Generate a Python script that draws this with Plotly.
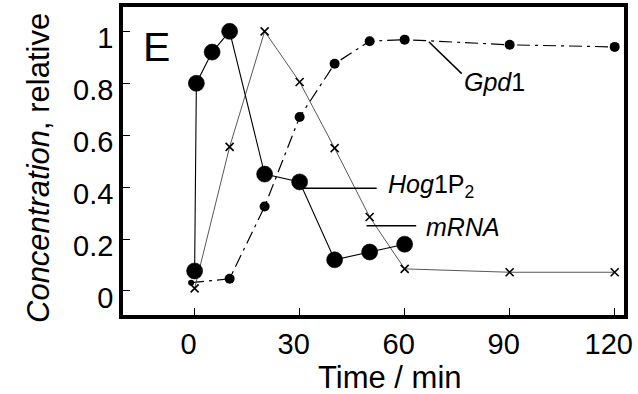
import plotly.graph_objects as go

# Data (time in min, relative concentration)
hog_t = [0, 0.5, 5, 10, 20, 30, 40, 50, 60]
hog_y = [0.077, 0.80, 0.92, 1.0, 0.45, 0.42, 0.12, 0.15, 0.18]

mrna_t = [0, 10, 20, 30, 40, 50, 60, 90, 120]
mrna_y = [0.01, 0.555, 1.0, 0.805, 0.55, 0.285, 0.085, 0.072, 0.072]

gpd_t = [-1, 10, 20, 30, 40, 50, 60, 90, 120]
gpd_y = [0.032, 0.047, 0.325, 0.67, 0.875, 0.962, 0.968, 0.948, 0.94]

x_ticks = [0, 30, 60, 90, 120]
y_ticks = [0, 0.2, 0.4, 0.6, 0.8, 1]
y_ticktext = ["0", "0.2", "0.4", "0.6", "0.8", "1"]

FONT = "Liberation Sans, Arial, sans-serif"

fig = go.Figure()

# Gpd1: dash-dot line
fig.add_trace(go.Scatter(
    x=gpd_t, y=gpd_y, mode="lines",
    line=dict(color="black", width=1.2, dash="13px,5px,3px,5px"),
    showlegend=False, hoverinfo="skip",
))
# Gpd1: small solid dots
fig.add_trace(go.Scatter(
    x=gpd_t, y=gpd_y, mode="markers",
    marker=dict(symbol="circle", color="#000000", opacity=1,
                size=[6] + [10] * (len(gpd_t) - 1),
                line=dict(color="#000000", width=0)),
    showlegend=False,
))

# mRNA: thin line with x markers
fig.add_trace(go.Scatter(
    x=mrna_t, y=mrna_y, mode="lines+markers",
    line=dict(color="#444444", width=0.9),
    marker=dict(symbol="x-thin", size=8, color="black",
                line=dict(color="black", width=1.6)),
    showlegend=False,
))

# Hog1P2: solid line with large circles
fig.add_trace(go.Scatter(
    x=hog_t, y=hog_y, mode="lines+markers",
    line=dict(color="black", width=1.1),
    marker=dict(color="black", size=16, line=dict(color="black", width=0.6)),
    showlegend=False,
))

# Leader lines
fig.add_shape(type="line", xref="x", yref="y", x0=66.9, y0=0.96, x1=76.3, y1=0.837,
              line=dict(color="black", width=1.5))
fig.add_shape(type="line", xref="x", yref="y", x0=30.6, y0=0.396, x1=52, y1=0.396,
              line=dict(color="black", width=1.5))
fig.add_shape(type="line", xref="x", yref="y", x0=49.1, y0=0.251, x1=63.3, y1=0.251,
              line=dict(color="black", width=1.5))

fig.add_annotation(x=76.3, y=0.806, xref="x", yref="y", text="<i>Gpd</i>1",
                   showarrow=False, xanchor="left", yanchor="middle",
                   font=dict(size=25, family=FONT, color="black"))
fig.add_annotation(x=54.8, y=0.404, xref="x", yref="y", text="<i>Hog</i>1P<sub>2</sub>",
                   showarrow=False, xanchor="left", yanchor="middle",
                   font=dict(size=25, family=FONT, color="black"))
fig.add_annotation(x=65.4, y=0.248, xref="x", yref="y", text="<i>mRNA</i>",
                   showarrow=False, xanchor="left", yanchor="middle",
                   font=dict(size=25, family=FONT, color="black"))

# Panel letter
fig.add_annotation(x=-15.3, y=0.941, xref="x", yref="y", text="E",
                   showarrow=False, xanchor="left", yanchor="middle",
                   font=dict(size=41, family=FONT, color="black"))

# Axis titles as annotations
fig.add_annotation(x=(390.5 - 123.4) / (624.3 - 123.4), y=0, xref="paper", yref="paper",
                   text="Time / min",
                   showarrow=False, xanchor="center", yanchor="middle", yshift=-62,
                   font=dict(size=31, family=FONT, color="black"))
fig.add_annotation(x=0, y=0.5, xref="paper", yref="paper",
                   text="<i>Concentration</i>, relative", textangle=-90,
                   showarrow=False, xanchor="center", yanchor="middle",
                   xshift=-85, yshift=-7,
                   font=dict(size=31, family=FONT, color="black"))

fig.update_xaxes(range=[-20.46, 122.66], tickvals=x_ticks, ticktext=[str(v) for v in x_ticks],
                 ticks="inside", ticklen=7, tickwidth=1, tickcolor="black",
                 showline=True, linewidth=3.5, linecolor="black", mirror=True,
                 showgrid=False, zeroline=False, automargin=False,
                 ticklabelshift=-6,
                 tickfont=dict(size=29, family=FONT, color="black"))
fig.update_yaxes(range=[-0.0926, 1.0937], tickvals=y_ticks, ticktext=y_ticktext,
                 ticks="inside", ticklen=7, tickwidth=1, tickcolor="black",
                 showline=True, linewidth=3.5, linecolor="black", mirror=True,
                 showgrid=False, zeroline=False, automargin=False,
                 ticklabelshift=7,
                 tickfont=dict(size=29, family=FONT, color="black"))

fig.update_layout(width=638, height=394, margin=dict(l=123, r=14, t=7, b=79, pad=0),
                  plot_bgcolor="white", paper_bgcolor="white")

fig.write_html("out.html", config={"displayModeBar": False},
               post_script="document.body.style.margin='0';")
